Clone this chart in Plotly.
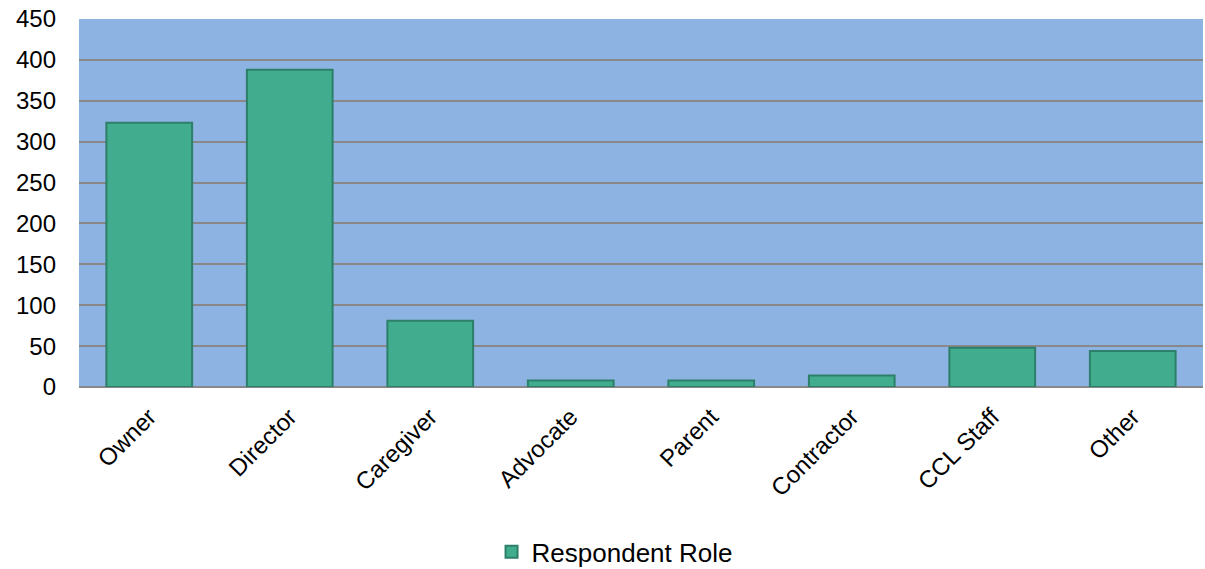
import plotly.graph_objects as go

categories = ["Owner", "Director", "Caregiver", "Advocate", "Parent", "Contractor", "CCL Staff", "Other"]
values = [323, 388, 81, 8, 8, 14, 48, 44]
y_ticks = [0, 50, 100, 150, 200, 250, 300, 350, 400, 450]

fig = go.Figure()
fig.add_trace(go.Bar(
    x=categories, y=values, name="Respondent Role",
    marker=dict(color="#41ad8e", line=dict(color="#2c7f68", width=2)),
    showlegend=True,
))

fig.update_layout(
    width=1205, height=569,
    margin=dict(l=79, r=2, t=19, b=182),
    paper_bgcolor="white", plot_bgcolor="#8db3e2",
    bargap=0.39,
    font=dict(family="Liberation Sans, Arial", size=24, color="black"),
    showlegend=True,
    legend=dict(orientation="h", x=0.51, xanchor="center", xref="container",
                y=0.03, yanchor="middle", yref="container",
                font=dict(size=26), itemwidth=30),
    xaxis=dict(tickangle=-45, showgrid=False, showline=False, ticks="",
               tickfont=dict(size=24), automargin=False, ticklabelstandoff=10),
    yaxis=dict(range=[0, 450], tickvals=y_ticks, showgrid=True, gridcolor="#888888",
               gridwidth=2, zeroline=True, zerolinecolor="#888888", zerolinewidth=2,
               showline=False, ticks="", tickfont=dict(size=24), automargin=False,
               ticklabelstandoff=22),
)
fig.write_html("out.html")
